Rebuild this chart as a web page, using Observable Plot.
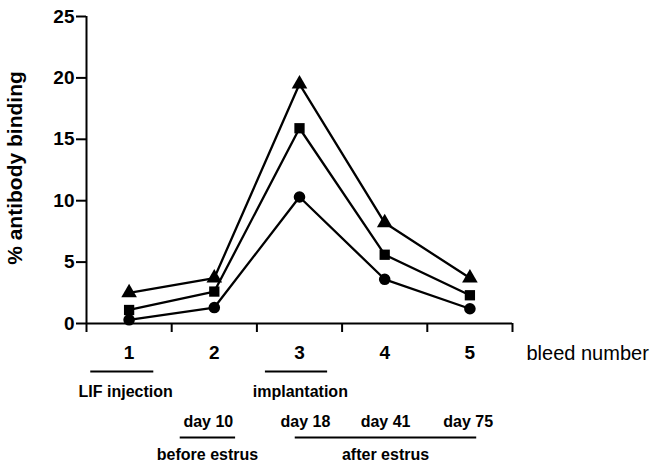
<!DOCTYPE html>
<html>
<head>
<meta charset="utf-8">
<script src="https://cdn.jsdelivr.net/npm/d3@7"></script>
<script src="https://cdn.jsdelivr.net/npm/@observablehq/plot@0.6"></script>
<style>
  html, body { margin: 0; padding: 0; background: #fff; }
</style>
</head>
<body>
<div id="chart"></div>
<script>
// Data
const bleeds = [1, 2, 3, 4, 5];
const triangleSeries = [2.5, 3.7, 19.5, 8.2, 3.7];
const squareSeries = [1.1, 2.6, 15.9, 5.6, 2.3];
const circleSeries = [0.3, 1.3, 10.3, 3.6, 1.2];
const yTicks = [0, 5, 10, 15, 20, 25];
const xBoundaries = [0.5, 1.5, 2.5, 3.5, 4.5, 5.5];

// Annotations under the x axis (x in bleed units)
const eventLabels = ["LIF injection", "implantation"];
const eventX = [0.96, 3.01];
const eventSpans = [[0.55, 1.29], [2.6, 3.33]];
const dayLabels = ["day 10", "day 18", "day 41", "day 75"];
const dayX = [1.93, 3.07, 4.01, 4.98];
const phaseLabels = ["before estrus", "after estrus"];
const phaseX = [1.92, 4.01];
const phaseSpans = [[1.6, 2.25], [2.95, 5.08]];

const series = [
  {name: "triangle", values: triangleSeries},
  {name: "square", values: squareSeries},
  {name: "circle", values: circleSeries}
];
const rows = series.flatMap(s => s.values.map((v, i) => ({series: s.name, bleed: bleeds[i], value: v})));

const font = "'Liberation Sans', Arial, sans-serif";

const chart = Plot.plot({
  width: 658,
  height: 463,
  marginLeft: 86,
  marginRight: 146,
  marginTop: 16,
  marginBottom: 140,
  style: {fontFamily: font, fontSize: "18px", fontWeight: "bold", color: "#000", background: "#fff", overflow: "visible"},
  x: {domain: [0.5, 5.5]},
  y: {domain: [0, 25]},
  marks: [
    Plot.axisY({ticks: yTicks, tickSize: 10, tickPadding: 2, tickFormat: d => String(d), label: null, fontSize: 19, strokeWidth: 2}),
    Plot.axisX({ticks: xBoundaries, tickSize: 9, tickFormat: () => "", label: null, strokeWidth: 2}),
    Plot.ruleX([0.5], {y1: 0, y2: 25, strokeWidth: 2}),
    Plot.ruleY([0], {x1: 0.5, x2: 5.5, strokeWidth: 2}),
    Plot.text(bleeds, {x: d => d, y: 0, dy: 29, text: d => String(d), fontSize: 19}),
    Plot.text(["bleed number"], {x: 5.5, y: 0, dx: 14, dy: 30, text: d => d, textAnchor: "start", fontSize: 20, fontWeight: "normal"}),
    Plot.text(["% antibody binding"], {frameAnchor: "left", textAnchor: "middle", dx: -71, dy: -2, text: d => d, rotate: -90, fontSize: 21}),
    Plot.line(rows, {x: "bleed", y: "value", z: "series", stroke: "#000", strokeWidth: 2.3}),
    Plot.dot(rows, {x: "bleed", y: "value", symbol: "series", r: 5.8, fill: "#000", stroke: "none"}),
    // annotations
    Plot.ruleY(eventSpans, {x1: d => d[0], x2: d => d[1], y: 0, dy: 48, strokeWidth: 2}),
    Plot.text(eventLabels, {x: (d, i) => eventX[i], y: 0, dy: 68, text: d => d, fontSize: 16}),
    Plot.text(dayLabels, {x: (d, i) => dayX[i], y: 0, dy: 98, text: d => d, fontSize: 16}),
    Plot.ruleY(phaseSpans, {x1: d => d[0], x2: d => d[1], y: 0, dy: 114, strokeWidth: 2}),
    Plot.text(phaseLabels, {x: (d, i) => phaseX[i], y: 0, dy: 131, text: d => d, fontSize: 16})
  ]
});
document.getElementById("chart").appendChild(chart);
</script>
</body>
</html>
